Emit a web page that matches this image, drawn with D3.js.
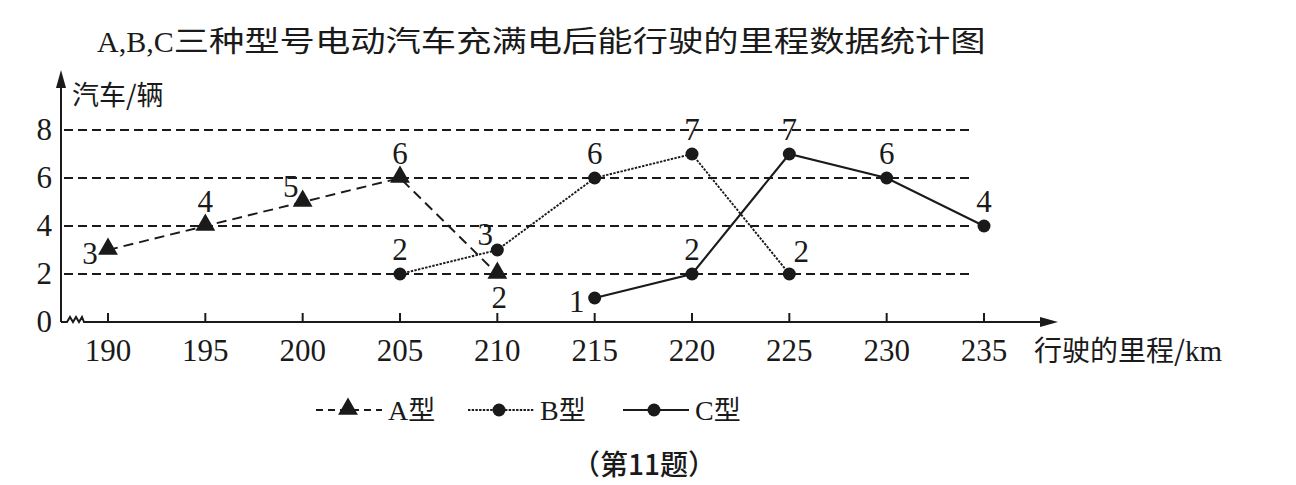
<!DOCTYPE html>
<html>
<head>
<meta charset="utf-8">
<script src="https://cdn.jsdelivr.net/npm/d3@7"></script>
<style>
  body { margin: 0; background: #fff; }
  svg { display: block; }
  text { fill: #1a1a1a; }
</style>
</head>
<body>
<svg width="1296" height="485"></svg>
<script>
// ---- data
var mileage = [190, 195, 200, 205, 210, 215, 220, 225, 230, 235];
var countTicks = [0, 2, 4, 6, 8];

var aMiles = [190, 195, 200, 205, 210];
var aCars  = [3, 4, 5, 6, 2];
var bMiles = [205, 210, 215, 220, 225];
var bCars  = [2, 3, 6, 7, 2];
var cMiles = [215, 220, 225, 230, 235];
var cCars  = [1, 2, 7, 6, 4];

var seriesLetters = ["A", "B", "C"];

// ---- setup
var svg = d3.select("svg"),
    ink = "#1a1a1a",
    SERIF = "'Liberation Serif', 'Times New Roman', 'DejaVu Serif', serif",
    CJK = "'Noto Sans CJK SC', sans-serif";

var x = d3.scaleLinear().domain([190, 235]).range([108, 984]);
var y = d3.scaleLinear().domain([0, 8]).range([322, 130]);
var x0 = 61; // y axis position

// where each value label sits relative to its point
var labelSide = {
  A: ["left", "top", "topleft", "top", "bottom"],
  B: ["top", "topleft", "top", "top", "topright"],
  C: ["left", "top", "top", "top", "top"]
};
var offsets = {
  top: [0, -24], bottom: [2, 24], left: [-18, 4],
  topleft: [-12, -15], topright: [12, -22]
};

// line styles for series
var styles = [
  {key: "A", dash: "10,6", width: 1.9, marker: "triangle"},
  {key: "B", dash: "2.4,1.3", width: 1.9, marker: "circle"},
  {key: "C", dash: null, width: 2.1, marker: "circle"}
];

var series = [
  d3.zip(aMiles, aCars),
  d3.zip(bMiles, bCars),
  d3.zip(cMiles, cCars)
];

// title: latin part in serif, rest in CJK
var title = svg.append("text")
    .attr("x", 97).attr("y", 52)
    .attr("font-size", 30);
title.append("tspan").attr("font-family", SERIF).text("A,B,C");
title.append("tspan").attr("font-family", CJK).attr("font-size", 29)
    .attr("textLength", 812).attr("lengthAdjust", "spacingAndGlyphs")
    .text("三种型号电动汽车充满电后能行驶的里程数据统计图");

// grid lines
svg.append("g").selectAll("line")
    .data(countTicks.filter(function (d) { return d > 0; }))
    .enter().append("line")
    .attr("x1", x0 + 3).attr("x2", 970)
    .attr("y1", function (d) { return y(d); })
    .attr("y2", function (d) { return y(d); })
    .attr("stroke", ink).attr("stroke-width", 2)
    .attr("stroke-dasharray", "9,5");

// y axis with arrow
svg.append("line")
    .attr("x1", x0).attr("x2", x0)
    .attr("y1", y(0)).attr("y2", 80)
    .attr("stroke", ink).attr("stroke-width", 2);
svg.append("path")
    .attr("d", "M" + x0 + ",70 L" + (x0 - 5) + ",88 L" + (x0 + 5) + ",88 Z")
    .attr("fill", ink);

// x axis with break and arrow
svg.append("path")
    .attr("d", "M" + x0 + "," + y(0) + " L67," + y(0) +
               " L70," + (y(0) - 5) + " L73," + y(0) +
               " L76," + (y(0) - 5) + " L79," + y(0) +
               " L82," + (y(0) - 5) + " L84," + y(0) + " L1048," + y(0))
    .attr("fill", "none").attr("stroke", ink).attr("stroke-width", 2);
svg.append("path")
    .attr("d", "M1058," + y(0) + " L1040," + (y(0) - 5) + " L1040," + (y(0) + 5) + " Z")
    .attr("fill", ink);

// x ticks (pointing up) and labels
svg.append("g").selectAll("line")
    .data(mileage)
    .enter().append("line")
    .attr("x1", function (d) { return x(d); })
    .attr("x2", function (d) { return x(d); })
    .attr("y1", y(0)).attr("y2", y(0) - 9)
    .attr("stroke", ink).attr("stroke-width", 2);

svg.append("g").selectAll("text")
    .data(mileage)
    .enter().append("text")
    .attr("font-family", SERIF)
    .attr("x", function (d) { return x(d); })
    .attr("y", 361)
    .attr("text-anchor", "middle")
    .attr("font-size", 31)
    .text(function (d) { return d; });

// y tick labels
svg.append("g").selectAll("text")
    .data(countTicks)
    .enter().append("text")
    .attr("font-family", SERIF)
    .attr("x", 52)
    .attr("y", function (d) { return y(d) + 10; })
    .attr("text-anchor", "end")
    .attr("font-size", 31)
    .text(function (d) { return d; });

// axis titles
svg.append("text")
    .attr("font-family", CJK)
    .attr("x", 72).attr("y", 105)
    .attr("font-size", 27)
    .text("汽车/辆");
var xt = svg.append("text")
    .attr("x", 1034).attr("y", 361)
    .attr("font-size", 28);
xt.append("tspan").attr("font-family", CJK).text("行驶的里程/");
xt.append("tspan").attr("font-family", SERIF).attr("font-size", 29).text("km");

// ---- series
var line = d3.line()
    .x(function (d) { return x(d[0]); })
    .y(function (d) { return y(d[1]); });

function drawMarker(g, type, cx, cy) {
  if (type == "triangle") {
    g.append("path")
        .attr("d", d3.symbol().type(d3.symbolTriangle).size(170)())
        .attr("transform", "translate(" + cx + "," + (cy - 1) + ")")
        .attr("fill", ink);
  } else {
    g.append("circle")
        .attr("cx", cx).attr("cy", cy).attr("r", 6.5)
        .attr("fill", ink);
  }
}

series.forEach(function (pts, i) {
  var st = styles[i];
  var g = svg.append("g");
  g.append("path")
      .datum(pts)
      .attr("d", line)
      .attr("fill", "none")
      .attr("stroke", ink)
      .attr("stroke-width", st.width)
      .attr("stroke-dasharray", st.dash);

  pts.forEach(function (p, j) {
    drawMarker(g, st.marker, x(p[0]), y(p[1]));
    var off = offsets[labelSide[st.key][j]];
    g.append("text")
        .attr("font-family", SERIF)
        .attr("x", x(p[0]) + off[0])
        .attr("y", y(p[1]) + off[1] + 10)
        .attr("text-anchor", "middle")
        .attr("font-size", 31)
        .text(p[1]);
  });
});

// ---- legend
var legendX = [316, 468, 623];
var legend = svg.append("g").selectAll("g")
    .data(styles)
    .enter().append("g")
    .attr("transform", function (d, i) { return "translate(" + legendX[i] + ",410)"; });

legend.append("line")
    .attr("x1", 0).attr("x2", 66)
    .attr("stroke", ink)
    .attr("stroke-width", function (d) { return d.width; })
    .attr("stroke-dasharray", function (d) { return d.dash ? (d.key == "A" ? "7,5" : d.dash) : null; });

legend.each(function (d) {
  drawMarker(d3.select(this), d.marker, d.key == "A" ? 32 : 31, 0);
});

var lt = legend.append("text")
    .attr("x", 72).attr("y", 10)
    .attr("font-size", 28);
lt.append("tspan").attr("font-family", SERIF).text(function (d, i) { return seriesLetters[i]; });
lt.append("tspan").attr("font-family", CJK).attr("font-size", 27).text("型");

// caption
svg.append("text")
    .attr("font-family", CJK)
    .attr("x", 572).attr("y", 475)
    .attr("font-size", 28)
    .attr("font-weight", 500)
    .text("（第11题）");
</script>
</body>
</html>
